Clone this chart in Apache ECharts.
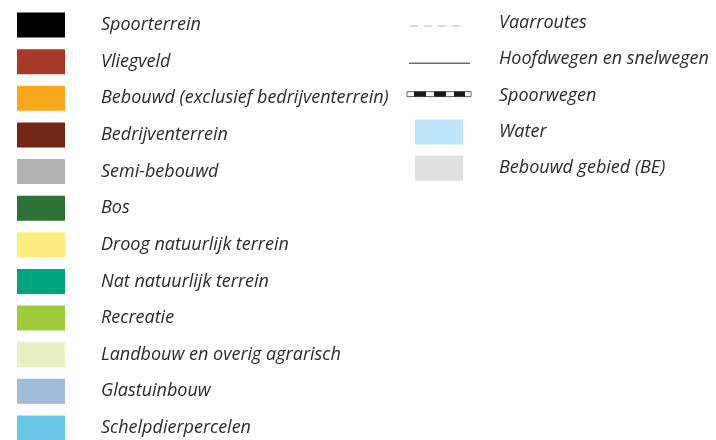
<!DOCTYPE html>
<html>
<head>
<meta charset="utf-8">
<script src="https://cdn.jsdelivr.net/npm/echarts@6/dist/echarts.min.js"></script>
<style>html,body{margin:0;padding:0;background:#fff}#c{width:716px;height:440px}</style>
</head>
<body>
<div id="c"></div>
<script>
// Left column legend entries
const leftLabels = ['Spoorterrein','Vliegveld','Bebouwd (exclusief bedrijventerrein)','Bedrijventerrein','Semi-bebouwd','Bos','Droog natuurlijk terrein','Nat natuurlijk terrein','Recreatie','Landbouw en overig agrarisch','Glastuinbouw','Schelpdierpercelen'];
const leftColors = ['#000000','#a63a27','#f9a81e','#722716','#b3b3b3','#2d7138','#fbee7f','#00a580','#9fcb3c','#e6f0c2','#9fbcd9','#6cc7e6'];
// Right column legend entries
const rightLabels = ['Vaarroutes','Hoofdwegen en snelwegen','Spoorwegen','Water','Bebouwd gebied (BE)'];
const rightTypes = ['dash','line','rail','rect','rect'];
const rightColors = ['#dcdcdc','#6e6e6e','#111111','#bde6fb','#e0e0e0'];

const FONT = 'italic 18px "Open Sans", sans-serif';
const TEXT = '#2b2b2b';

function renderItem(params, api) {
  const col = api.value(0), row = api.value(1), idx = api.value(2);
  const p = api.coord([col, row]);
  let type, color, label;
  if (col === 0) { type = 'rect'; color = leftColors[idx]; label = leftLabels[idx]; }
  else { type = rightTypes[idx]; color = rightColors[idx]; label = rightLabels[idx]; }
  const children = [];
  if (type === 'rect') {
    children.push({type:'rect', shape:{x:p[0]-24, y:p[1]-12.5, width:48, height:25}, style:{fill:color}});
  } else if (type === 'dash') {
    children.push({type:'line', shape:{x1:p[0]-29, y1:p[1]+3, x2:p[0]+26, y2:p[1]+3}, style:{stroke:color, lineWidth:2, lineDash:[8,6]}});
  } else if (type === 'line') {
    children.push({type:'line', shape:{x1:p[0]-30, y1:p[1]+4, x2:p[0]+31, y2:p[1]+4}, style:{stroke:color, lineWidth:1.5}});
  } else if (type === 'rail') {
    const x0 = p[0]-32, w = 64, y0 = p[1]-4;
    children.push({type:'rect', shape:{x:x0, y:y0, width:w, height:5}, style:{fill:'#fff', stroke:'#666', lineWidth:1}});
    const segs = [[7,12],[27,12],[47,11]];
    for (let k=0;k<3;k++) children.push({type:'rect', shape:{x:x0+segs[k][0], y:y0, width:segs[k][1], height:5}, style:{fill:'#1a1a1a'}});
  }
  children.push({type:'text', x:p[0]+60, y:p[1], style:{text:label, font:FONT, fill:TEXT, verticalAlign:'middle', align:'left'}});
  return {type:'group', children};
}

const leftData = leftLabels.map((l,i)=>[0,i,i]);
const rightData = rightLabels.map((l,i)=>[1,i,i]);

const chart = echarts.init(document.getElementById('c'), null, {renderer:'canvas'});
chart.setOption({
  animation:false,
  grid:[
    {left:41, right:716-439, top:0, bottom:0, containLabel:false},
    {left:0, right:716-439, top:0, bottom:0, containLabel:false}
  ],
  xAxis:[
    {gridIndex:0, type:'value', min:0, max:1, show:false},
    {gridIndex:1, type:'value', min:0, max:1, show:false}
  ],
  yAxis:[
    {gridIndex:0, type:'value', inverse:true, min:-0.6824, max:11.3277, show:false, splitLine:{show:false}},
    {gridIndex:1, type:'value', inverse:true, min:-0.6336, max:11.4874, show:false, splitLine:{show:false}}
  ],
  series:[
    {type:'custom', xAxisIndex:0, yAxisIndex:0, renderItem, data:leftData, clip:false},
    {type:'custom', xAxisIndex:1, yAxisIndex:1, renderItem, data:rightData, clip:false}
  ]
});
</script>
</body>
</html>
